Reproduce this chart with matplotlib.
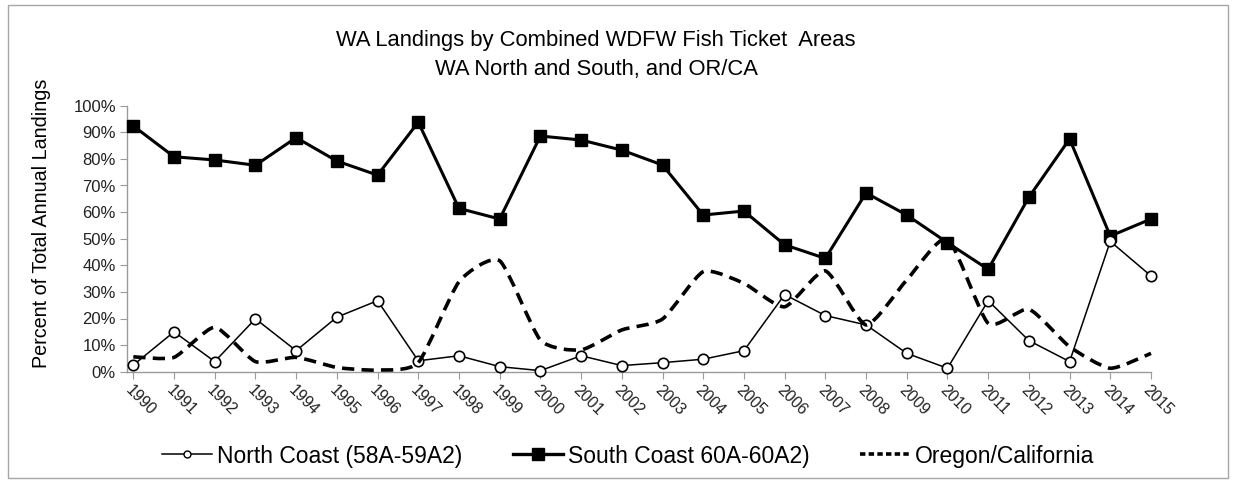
import matplotlib
matplotlib.use("Agg")
import matplotlib.pyplot as plt
import numpy as np
from matplotlib.path import Path
from matplotlib.patches import PathPatch, Rectangle
from matplotlib.lines import Line2D
from matplotlib.ticker import FuncFormatter

plt.rcParams['font.family'] = ['Liberation Sans', 'DejaVu Sans']

years = list(range(1990, 2016))
north = [2.5, 15.0, 3.8, 19.9, 7.9, 20.5, 26.7, 4.1, 6.0, 1.9, 0.4, 6.0, 2.3, 3.4,
         4.7, 7.9, 29.0, 21.1, 17.6, 6.9, 1.3, 26.7, 11.7, 3.8, 49.0, 36.0]
south = [92.4, 80.8, 79.6, 77.6, 88.0, 79.2, 73.9, 93.8, 61.4, 57.4, 88.6, 87.1, 83.3, 77.7,
         58.9, 60.4, 47.7, 42.6, 67.2, 58.9, 48.5, 38.5, 65.6, 87.5, 51.0, 57.4]
oregon = [5.6, 5.4, 16.7, 3.8, 5.4, 1.6, 0.6, 3.4, 33.8, 41.7, 11.9, 8.2, 15.7, 19.8,
          37.6, 33.2, 24.4, 37.9, 17.6, 34.5, 50.0, 18.2, 23.5, 9.4, 1.3, 6.9]
yticks = [0, 10, 20, 30, 40, 50, 60, 70, 80, 90, 100]

labels = ["North Coast (58A-59A2)", "South Coast 60A-60A2)", "Oregon/California"]
title = "WA Landings by Combined WDFW Fish Ticket  Areas\nWA North and South, and OR/CA"
ylabel = "Percent of Total Annual Landings"

W, H = 1235, 483
fig = plt.figure(figsize=(W / 100, H / 100), dpi=100)
ax = fig.add_axes([127 / W, 1 - 371.7 / H, (1151 - 127) / W, (371.7 - 105.7) / H])

ax.set_xlim(1989.845, 2015)
ax.set_ylim(0, 100)

axis_gray = '#9a9a9a'
ax.plot(years, south, color='black', lw=2.2, marker='s', ms=8, zorder=3, clip_on=False)
ax.plot(years, north, color='black', lw=1.1, marker='o', ms=7.5, mfc='white', mec='black',
        mew=1.2, zorder=4, clip_on=False)

# Oregon/California: smoothed line (Bezier through the data points)
xs = np.array(years, dtype=float)
ys = np.array(oregon, dtype=float)
verts = [(xs[0], ys[0])]
codes = [Path.MOVETO]
n = len(xs)
k = 10.0
for i in range(n - 1):
    p0 = np.array([xs[max(i - 1, 0)], ys[max(i - 1, 0)]])
    p1 = np.array([xs[i], ys[i]])
    p2 = np.array([xs[i + 1], ys[i + 1]])
    p3 = np.array([xs[min(i + 2, n - 1)], ys[min(i + 2, n - 1)]])
    c1 = p1 + (p2 - p0) / k
    c2 = p2 - (p3 - p1) / k
    verts += [tuple(c1), tuple(c2), tuple(p2)]
    codes += [Path.CURVE4, Path.CURVE4, Path.CURVE4]
dash = (0, (3.4, 2.0))
patch = PathPatch(Path(verts, codes), fill=False, edgecolor='black', lw=2.6,
                  linestyle=dash, zorder=5, clip_on=False, capstyle='butt')
ax.add_patch(patch)

for s in ['top', 'right']:
    ax.spines[s].set_visible(False)
for s in ['left', 'bottom']:
    ax.spines[s].set_color(axis_gray)
    ax.spines[s].set_linewidth(1.0)

ax.set_yticks(yticks)
ax.yaxis.set_major_formatter(FuncFormatter(lambda v, p: f"{int(v)}%"))
ax.tick_params(axis='y', direction='out', length=5, color=axis_gray, labelsize=12,
               labelcolor='#222222', pad=3)
ax.set_xticks(years)
ax.set_xticklabels([str(y) for y in years], rotation=-45, ha='left', va='top',
                   rotation_mode='anchor', fontsize=11.5, color='#222222')
ax.tick_params(axis='x', direction='out', length=5, color=axis_gray, pad=3)

fig.text(42 / W, 1 - 223 / H, ylabel, rotation=90, ha='center', va='center', fontsize=14.2)
fig.text(596 / W, 1 - 55 / H, title, ha='center', va='center', fontsize=15.8, linespacing=1.45)

handles = [
    Line2D([], [], color='black', lw=1.1, marker='o', ms=5, mfc='white', mec='black', mew=1.0),
    Line2D([], [], color='black', lw=2.4, marker='s', ms=8),
    Line2D([], [], color='black', lw=2.6, linestyle=(0, (1.5, 0.9))),
]
fig.legend(handles, labels, loc='center', bbox_to_anchor=(628 / W, 1 - 456 / H), ncol=3,
           frameon=False, fontsize=16.5, handlelength=2.2, handletextpad=0.2,
           columnspacing=2.2)

fig.patches.append(Rectangle((8 / W, 5 / H), (1228 - 8) / W, (478 - 5) / H,
                             transform=fig.transFigure, fill=False,
                             edgecolor='#a6a6a6', lw=1.0))

fig.savefig('out.png', dpi=100)
